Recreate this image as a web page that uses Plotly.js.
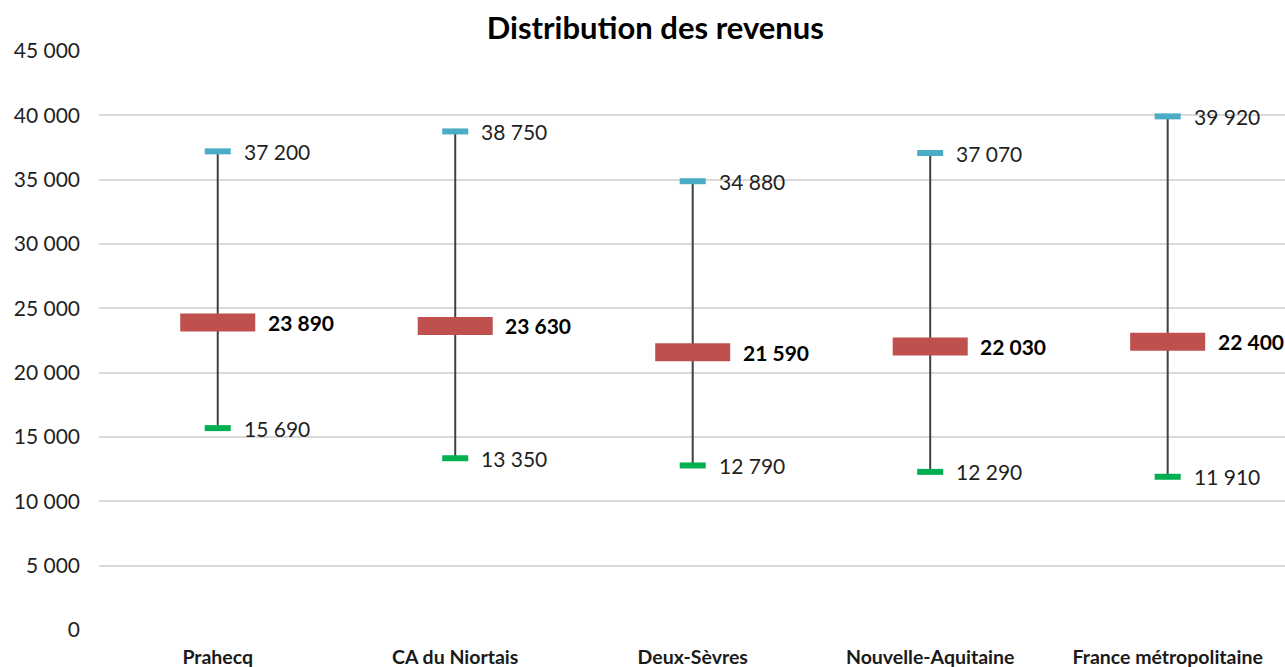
<!DOCTYPE html>
<html>
<head>
<meta charset="utf-8">
<script src="https://cdn.plot.ly/plotly-3.0.1.min.js"></script>
<style>html,body{margin:0;padding:0;background:#fff;}#chart{width:1285px;height:667px;}</style>
</head>
<body>
<div id="chart"></div>
<script>
const categories = ["Prahecq", "CA du Niortais", "Deux-Sèvres", "Nouvelle-Aquitaine", "France métropolitaine"];
const maxValues = [37200, 38750, 34880, 37070, 39920];
const medianValues = [23890, 23630, 21590, 22030, 22400];
const minValues = [15690, 13350, 12790, 12290, 11910];
const yTickValues = [0, 5000, 10000, 15000, 20000, 25000, 30000, 35000, 40000, 45000];

const FONT = "Lato, 'Open Sans', sans-serif";
const fmt = v => String(v).replace(/\B(?=(\d{3})+(?!\d))/g, " ");

const whiskers = {
  type: "scatter", mode: "markers", x: categories, y: medianValues,
  marker: {size: 1, opacity: 0},
  error_y: {
    type: "data", symmetric: false,
    array: maxValues.map((v, i) => v - medianValues[i]),
    arrayminus: medianValues.map((v, i) => v - minValues[i]),
    color: "#404040", thickness: 2, width: 0
  },
  hoverinfo: "skip", showlegend: false
};
const maxTrace = {
  type: "scatter", mode: "markers", x: categories, y: maxValues,
  marker: {symbol: "line-ew", size: 18.6, line: {color: "#4BACC6", width: 6}},
  showlegend: false
};
const minTrace = {
  type: "scatter", mode: "markers", x: categories, y: minValues,
  marker: {symbol: "line-ew", size: 18.6, line: {color: "#00B050", width: 6}},
  showlegend: false
};
const medTrace = {
  type: "scatter", mode: "markers", x: categories, y: medianValues,
  marker: {symbol: "line-ew", size: 53.6, line: {color: "#C0504D", width: 18}},
  showlegend: false
};

const annotations = [];
categories.forEach((c, i) => {
  annotations.push({x: c, y: maxValues[i], text: fmt(maxValues[i]), showarrow: false, xanchor: "left", yanchor: "middle", xshift: 24, font: {family: FONT, size: 21, color: "#1f1f1f"}});
  annotations.push({x: c, y: minValues[i], text: fmt(minValues[i]), showarrow: false, xanchor: "left", yanchor: "middle", xshift: 24, font: {family: FONT, size: 21, color: "#1f1f1f"}});
  annotations.push({x: c, y: medianValues[i], text: "<b>" + fmt(medianValues[i]) + "</b>", showarrow: false, xanchor: "left", yanchor: "middle", xshift: 48, font: {family: FONT, size: 21, color: "#000"}});
});

const layout = {
  width: 1285, height: 667,
  margin: {l: 99, r: 0, t: 51, b: 37},
  paper_bgcolor: "#fff", plot_bgcolor: "#fff",
  separators: ", ",
  title: {text: "<b>Distribution des revenus</b>", x: 0.51, xanchor: "center", y: 0.958, yanchor: "middle", font: {family: FONT, size: 31, color: "#000"}},
  xaxis: {
    type: "category", range: [-0.5, 4.494], showgrid: false, zeroline: false, showline: false,
    ticks: "", ticklabelstandoff: 13,
    tickfont: {family: FONT, size: 19.5, color: "#1a1a1a", weight: "bold"}
  },
  yaxis: {
    range: [0, 45000], tickvals: yTickValues, ticktext: yTickValues.map(fmt),
    showgrid: true, gridcolor: "#D9D9D9", gridwidth: 2, zeroline: false, showline: false,
    ticks: "", ticklabelstandoff: 18,
    tickfont: {family: FONT, size: 21, color: "#1f1f1f"}
  },
  annotations: annotations,
  showlegend: false
};

Plotly.newPlot("chart", [whiskers, maxTrace, minTrace, medTrace], layout, {displayModeBar: false, staticPlot: true});
</script>
</body>
</html>
